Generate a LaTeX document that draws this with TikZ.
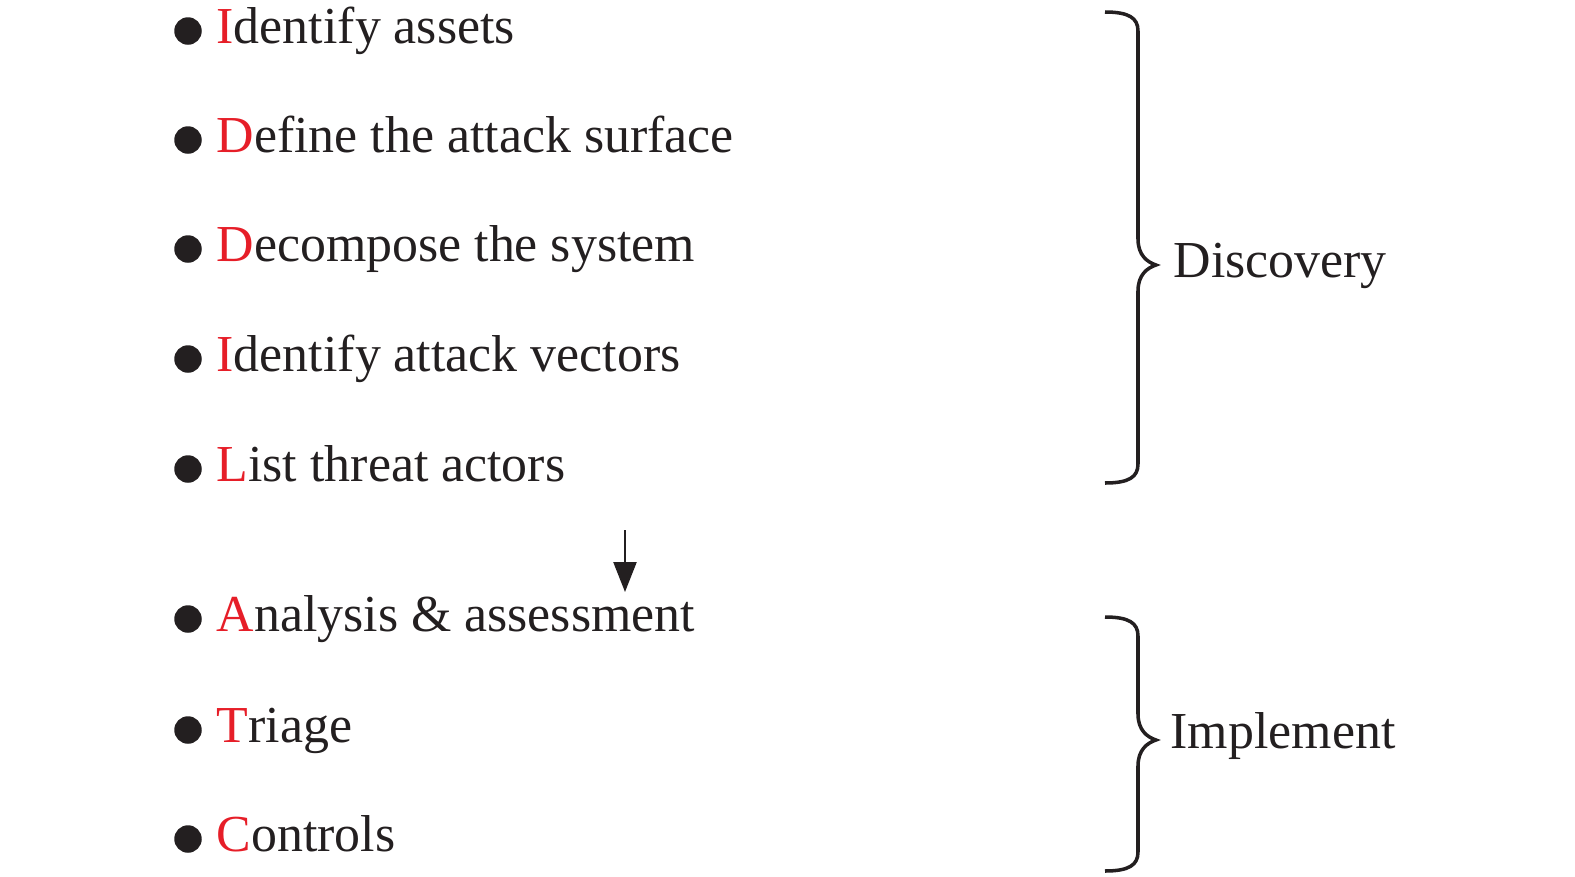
\documentclass[tikz,border=0pt]{standalone}
\usepackage{fontspec}
\setmainfont{Liberation Serif}
\usepackage{xcolor}
\usetikzlibrary{arrows.meta}
\definecolor{inkdark}{RGB}{35,31,32}
\definecolor{firstred}{RGB}{230,30,40}

% curly brace opening to the right: x, top y, tip y, bottom y
\newcommand{\sidebrace}[4]{%
  \draw[bracestyle] (#1,#2) .. controls +(0.24,0) and +(0,0.13) .. (#1+0.33,#2-0.19)
    -- (#1+0.33,#3+0.26) .. controls +(0,-0.16) and +(-0.09,0.03) .. (#1+0.51,#3)
    .. controls +(-0.09,-0.03) and +(0,0.16) .. (#1+0.33,#3-0.26)
    -- (#1+0.33,#4+0.19) .. controls +(0,-0.13) and +(0.24,0) .. (#1,#4);
}

\begin{document}
\begin{tikzpicture}[
    font=\fontsize{14.76pt}{18pt}\selectfont,
    every node/.style={text=inkdark},
    dot/.style={circle, fill=inkdark, inner sep=0pt, minimum size=0.275cm},
    item/.style={anchor=base west, inner sep=0pt},
    group/.style={anchor=base west, inner sep=0pt},
    bracestyle/.style={draw=inkdark, line width=1pt},
    flow/.style={draw=inkdark, line width=0.7pt, -{Triangle[width=0.23cm,length=0.3cm]}}
]
    \useasboundingbox (0,0) rectangle (15.75,-8.77);

    % discovery steps
    \node[dot] (d1) at (1.88,-0.31) {};
    \node[item] (s1) at (2.16,-0.43) {\textcolor{firstred}{I}dentify assets};
    \node[dot] (d2) at (1.88,-1.40) {};
    \node[item] (s2) at (2.16,-1.52) {\textcolor{firstred}{D}efine the attack surface};
    \node[dot] (d3) at (1.88,-2.49) {};
    \node[item] (s3) at (2.16,-2.61) {\textcolor{firstred}{D}ecompose the system};
    \node[dot] (d4) at (1.88,-3.59) {};
    \node[item] (s4) at (2.16,-3.71) {\textcolor{firstred}{I}dentify attack vectors};
    \node[dot] (d5) at (1.88,-4.69) {};
    \node[item] (s5) at (2.16,-4.81) {\textcolor{firstred}{L}ist threat actors};

    % implement steps
    \node[dot] (d6) at (1.88,-6.19) {};
    \node[item] (s6) at (2.16,-6.31) {\textcolor{firstred}{A}nalysis \& assessment};
    \node[dot] (d7) at (1.88,-7.30) {};
    \node[item] (s7) at (2.16,-7.42) {\textcolor{firstred}{T}riage};
    \node[dot] (d8) at (1.88,-8.39) {};
    \node[item] (s8) at (2.16,-8.51) {\textcolor{firstred}{C}ontrols};

    % arrow between the two groups
    \coordinate (arrowtop) at (6.25,-5.30);
    \coordinate (arrowtip) at (6.25,-5.92);
    \draw[flow] (arrowtop) -- (arrowtip);

    % braces and group labels
    \sidebrace{11.05}{-0.12}{-2.65}{-4.83}
    \node[group] (discovery) at (11.73,-2.77) {Discovery};
    \sidebrace{11.05}{-6.17}{-7.40}{-8.71}
    \node[group] (implement) at (11.70,-7.48) {Implement};
\end{tikzpicture}
\end{document}
